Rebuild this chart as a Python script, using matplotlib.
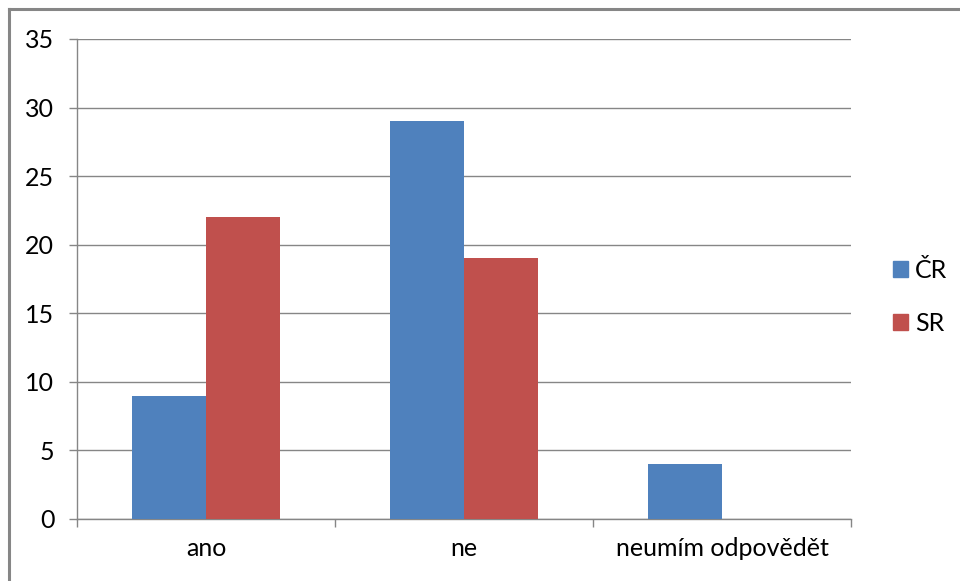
import matplotlib
matplotlib.use("Agg")
import matplotlib.pyplot as plt
from matplotlib.lines import Line2D
import numpy as np

categories = ["ano", "ne", "neumím odpovědět"]
series_names = ["ČR", "SR"]
cr_values = [9, 29, 4]
sr_values = [22, 19, 0]
colors = ["#4F81BD", "#C0504D"]

plt.rcParams['font.family'] = ['Lato', 'DejaVu Sans']

W, H = 960, 581
fig = plt.figure(figsize=(W / 100, H / 100), dpi=100)
fig.patch.set_facecolor("white")

# outer frame
fig.add_artist(Line2D([9 / W, 9 / W], [0, 1 - 9 / H], transform=fig.transFigure,
                      color="#868686", lw=2.2))
fig.add_artist(Line2D([9 / W, 1], [1 - 9 / H, 1 - 9 / H], transform=fig.transFigure,
                      color="#868686", lw=2.2))

left, right, top, bottom = 77, 851, 39, 519
ax = fig.add_axes([left / W, 1 - bottom / H, (right - left) / W, (bottom - top) / H])

x = np.arange(len(categories))
bw = 0.287
ax.bar(x - bw / 2, cr_values, bw, color=colors[0], label=series_names[0], zorder=3)
ax.bar(x + bw / 2, sr_values, bw, color=colors[1], label=series_names[1], zorder=3)

ax.set_xlim(-0.5, len(categories) - 0.5)
ax.set_ylim(0, 35)
ax.set_yticks(range(0, 36, 5))
ax.yaxis.grid(True, color="#868686", lw=1.0, zorder=0)
ax.set_axisbelow(True)

ax.set_xticks(x)
ax.set_xticklabels(categories)
ax.set_xticks(np.arange(-0.5, len(categories), 1.0), minor=True)
ax.tick_params(axis="x", which="major", length=0, pad=13, labelsize=18, colors="#000000")
ax.tick_params(axis="x", which="minor", length=5.8, color="#868686", width=1)
ax.tick_params(axis="y", length=5.8, color="#868686", width=1, pad=10.5, labelsize=18)

for s in ["top", "right"]:
    ax.spines[s].set_visible(False)
for s in ["left", "bottom"]:
    ax.spines[s].set_color("#868686")
    ax.spines[s].set_linewidth(1.0)

handles = [plt.Rectangle((0, 0), 1, 1, color=c) for c in colors]
fig.legend(handles, series_names, loc="center left",
           bbox_to_anchor=(870 / W, 1 - 297 / H), frameon=False, fontsize=18,
           handlelength=0.6, handleheight=0.6, handletextpad=0.3, labelspacing=1.2)

fig.savefig("out.png", dpi=100)
